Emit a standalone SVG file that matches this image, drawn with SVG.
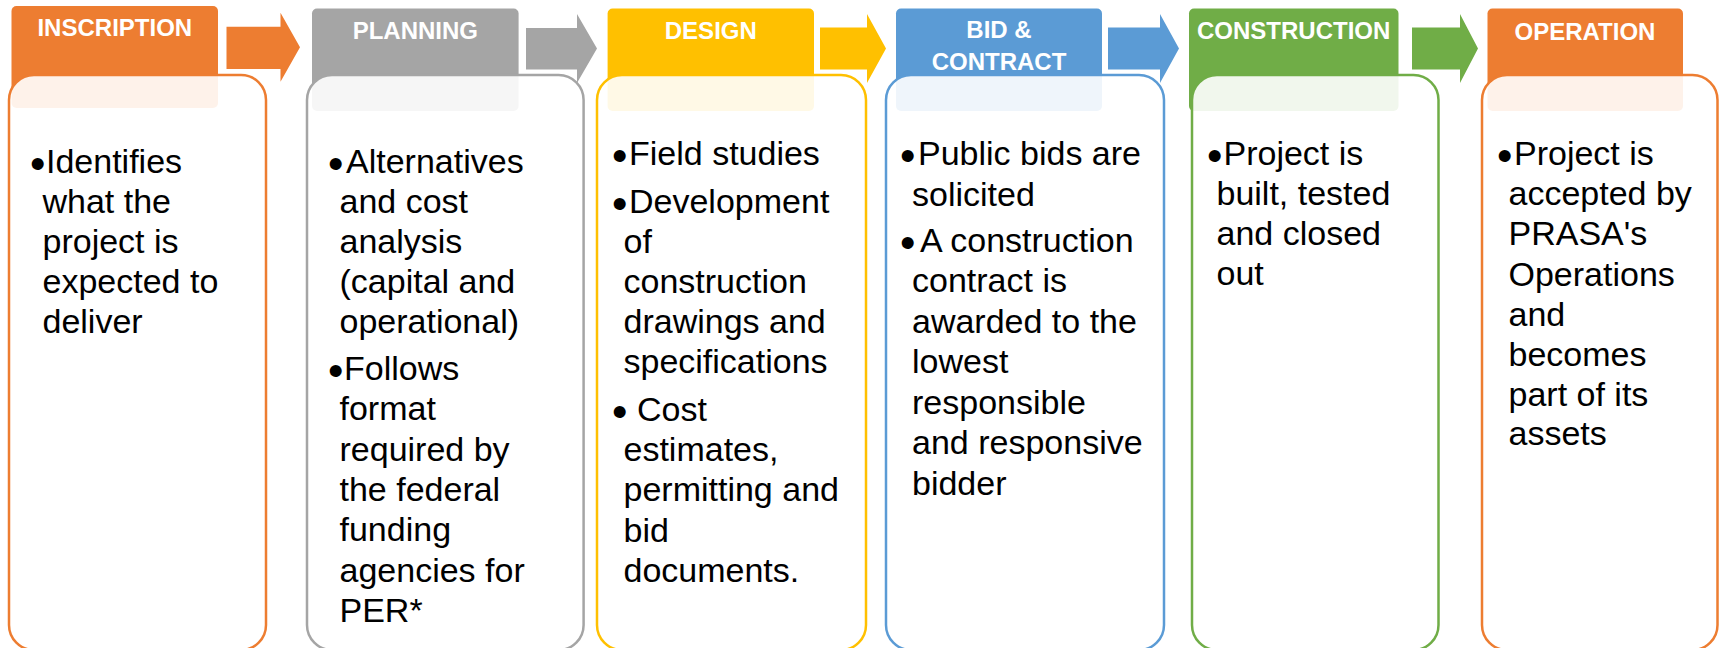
<svg xmlns="http://www.w3.org/2000/svg" width="1719" height="648" viewBox="0 0 1719 648">
<style>
.hd{font-family:"Liberation Sans",Arial,sans-serif;font-weight:bold;font-size:24px;fill:#fff;text-anchor:middle}
.tx{font-family:"Liberation Sans",Arial,sans-serif;font-size:34px;fill:#000}
.bl{font-family:"Liberation Sans",Arial,sans-serif;font-size:44px;fill:#000}
.body{fill:#fff;fill-opacity:0.9;stroke-width:2.5}
</style>
<rect width="1719" height="648" fill="#fff"/>
<g id="connectors">
<polygon points="226.5,26.7 280.5,26.7 280.5,12.7 300,47.2 280.5,81.7 280.5,69 226.5,69" fill="#ED7D31"/>
<polygon points="526,28 577,28 577,14 597,48.5 577,83 577,69.5 526,69.5" fill="#A5A5A5"/>
<polygon points="820,27.5 867,27.5 867,14 886,48.5 867,83 867,69.5 820,69.5" fill="#FFC000"/>
<polygon points="1108,27.5 1160,27.5 1160,14 1179,48.5 1160,83 1160,69.5 1108,69.5" fill="#5B9BD5"/>
<polygon points="1412,27.5 1460,27.5 1460,14 1478,48.5 1460,83 1460,69.5 1412,69.5" fill="#70AD47"/>
</g>
<g id="inscription">
<rect x="11.5" y="6" width="206.5" height="102" rx="5" fill="#ED7D31"/>
<text class="hd" x="114.8" y="36">INSCRIPTION</text>
<rect class="body" x="9" y="75" width="257" height="575" rx="25" stroke="#ED7D31"/>
<text class="bl" x="30" y="178.7">•</text>
<text class="tx"><tspan x="46" y="172.7">Identifies</tspan><tspan x="42.5" y="212.7">what the</tspan><tspan x="42.5" y="252.7">project is</tspan><tspan x="42.5" y="292.7">expected to</tspan><tspan x="42.5" y="332.7">deliver</tspan></text>
</g>
<g id="planning">
<rect x="312" y="8.5" width="206.6" height="102.5" rx="5" fill="#A5A5A5"/>
<text class="hd" x="415.3" y="39.3">PLANNING</text>
<rect class="body" x="307" y="75" width="276.6" height="575" rx="25" stroke="#A5A5A5"/>
<text class="bl" x="328" y="178.7">•</text>
<text class="tx"><tspan x="346" y="172.7">Alternatives</tspan><tspan x="339.5" y="212.7">and cost</tspan><tspan x="339.5" y="252.7">analysis</tspan><tspan x="339.5" y="292.7">(capital and</tspan><tspan x="339.5" y="332.7">operational)</tspan></text>
<text class="bl" x="328" y="386">•</text>
<text class="tx"><tspan x="344" y="380">Follows</tspan><tspan x="339.5" y="420.3">format</tspan><tspan x="339.5" y="460.6">required by</tspan><tspan x="339.5" y="500.9">the federal</tspan><tspan x="339.5" y="541.2">funding</tspan><tspan x="339.5" y="581.5">agencies for</tspan><tspan x="339.5" y="621.7">PER*</tspan></text>
</g>
<g id="design">
<rect x="607.6" y="8.5" width="206.4" height="102.5" rx="5" fill="#FFC000"/>
<text class="hd" x="710.8" y="39.3">DESIGN</text>
<rect class="body" x="597" y="75" width="269" height="575" rx="25" stroke="#FFC000"/>
<text class="bl" x="612" y="171">•</text>
<text class="tx"><tspan x="629" y="165">Field studies</tspan></text>
<text class="bl" x="612" y="218.7">•</text>
<text class="tx"><tspan x="629" y="212.7">Development</tspan><tspan x="623.5" y="252.7">of</tspan><tspan x="623.5" y="292.7">construction</tspan><tspan x="623.5" y="332.7">drawings and</tspan><tspan x="623.5" y="372.7">specifications</tspan></text>
<text class="bl" x="612" y="427">•</text>
<text class="tx"><tspan x="637" y="421">Cost</tspan><tspan x="623.5" y="461.2">estimates,</tspan><tspan x="623.5" y="501.4">permitting and</tspan><tspan x="623.5" y="541.6">bid</tspan><tspan x="623.5" y="581.7">documents.</tspan></text>
</g>
<g id="bid-contract">
<rect x="896" y="8.5" width="206" height="102.5" rx="5" fill="#5B9BD5"/>
<text class="hd" x="999" y="37.7">BID &amp;</text>
<text class="hd" x="999" y="70">CONTRACT</text>
<rect class="body" x="886" y="75" width="278" height="575" rx="25" stroke="#5B9BD5"/>
<text class="bl" x="900" y="171">•</text>
<text class="tx"><tspan x="918" y="165">Public bids are</tspan><tspan x="912" y="205.5">solicited</tspan></text>
<text class="bl" x="900" y="258">•</text>
<text class="tx"><tspan x="920" y="252">A construction</tspan><tspan x="912" y="292.4">contract is</tspan><tspan x="912" y="332.8">awarded to the</tspan><tspan x="912" y="373.2">lowest</tspan><tspan x="912" y="413.6">responsible</tspan><tspan x="912" y="454">and responsive</tspan><tspan x="912" y="494.5">bidder</tspan></text>
</g>
<g id="construction">
<rect x="1189" y="8.5" width="209.5" height="102.5" rx="5" fill="#70AD47"/>
<text class="hd" x="1293.7" y="39.3">CONSTRUCTION</text>
<rect class="body" x="1192" y="75" width="246.5" height="575" rx="25" stroke="#70AD47"/>
<text class="bl" x="1207" y="171">•</text>
<text class="tx"><tspan x="1223.5" y="165">Project is</tspan><tspan x="1216.5" y="205">built, tested</tspan><tspan x="1216.5" y="245">and closed</tspan><tspan x="1216.5" y="285">out</tspan></text>
</g>
<g id="operation">
<rect x="1487.5" y="8.5" width="195.5" height="102.5" rx="5" fill="#ED7D31"/>
<text class="hd" x="1585" y="40">OPERATION</text>
<rect class="body" x="1482" y="75" width="235.5" height="575" rx="25" stroke="#ED7D31"/>
<text class="bl" x="1497" y="171">•</text>
<text class="tx"><tspan x="1514" y="165">Project is</tspan><tspan x="1508.5" y="205">accepted by</tspan><tspan x="1508.5" y="245">PRASA's</tspan><tspan x="1508.5" y="285.5">Operations</tspan><tspan x="1508.5" y="325.5">and</tspan><tspan x="1508.5" y="366">becomes</tspan><tspan x="1508.5" y="406">part of its</tspan><tspan x="1508.5" y="445">assets</tspan></text>
</g>
</svg>
